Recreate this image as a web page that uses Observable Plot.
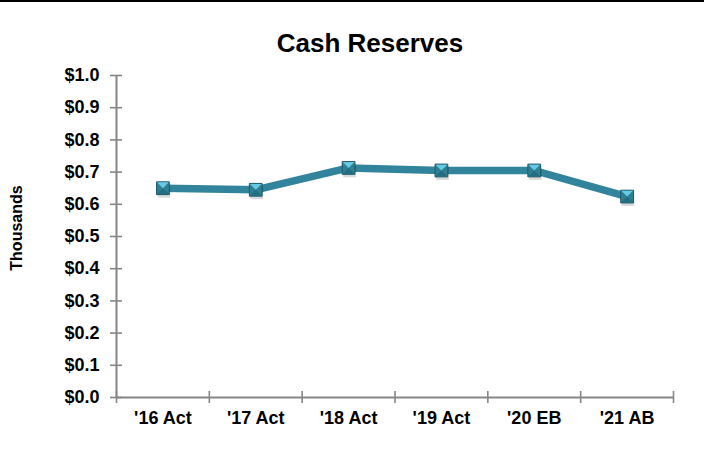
<!DOCTYPE html>
<html>
<head>
<meta charset="utf-8">
<script src="https://cdn.jsdelivr.net/npm/d3@7"></script>
<script src="https://cdn.jsdelivr.net/npm/@observablehq/plot@0.6"></script>
<style>
  body { margin: 0; background: #fff; }
  #wrap { position: relative; width: 704px; height: 461px; font-family: "Liberation Sans", Arial, sans-serif; }
  #topline { position: absolute; left: 0; top: 0; width: 704px; height: 2px; background: #000; }
  #title { position: absolute; left: 0; width: 740px; top: 28px; text-align: center; font-weight: bold; font-size: 26px; color: #000; }
  #ylabel { position: absolute; left: 17px; top: 228px; transform: translate(-50%, -50%) rotate(-90deg); font-weight: bold; font-size: 16px; color: #000; white-space: nowrap; }
</style>
</head>
<body>
<div id="wrap">
  <div id="chart"></div>
  <div id="topline"></div>
  <div id="title">Cash Reserves</div>
  <div id="ylabel">Thousands</div>
</div>
<script>
const categories = ["'16 Act", "'17 Act", "'18 Act", "'19 Act", "'20 EB", "'21 AB"];
const values = [0.65, 0.645, 0.713, 0.705, 0.705, 0.624];
const yTicks = [0, 0.1, 0.2, 0.3, 0.4, 0.5, 0.6, 0.7, 0.8, 0.9, 1.0];

const data = categories.map((c, i) => ({ cat: c, pos: i + 0.5, v: values[i] }));
const boundaries = d3.range(categories.length + 1);
const centers = categories.map((c, i) => i + 0.5);

const topTri = {
  draw(ctx, size) {
    const h = Math.sqrt(size) / 2;
    ctx.moveTo(-h, -h); ctx.lineTo(h, -h); ctx.lineTo(0, 0); ctx.closePath();
  }
};
const botTri = {
  draw(ctx, size) {
    const h = Math.sqrt(size) / 2;
    ctx.moveTo(-h, h); ctx.lineTo(h, h); ctx.lineTo(0, 0); ctx.closePath();
  }
};

const axisColor = "#868686";
const R = 7.2;
const font = { fontFamily: "Liberation Sans, Arial, sans-serif", fontSize: 18, fontWeight: "bold" };

const plot = Plot.plot({
  width: 704,
  height: 461,
  marginLeft: 116,
  marginRight: 31,
  marginTop: 75,
  marginBottom: 64,
  style: { fontFamily: "Liberation Sans, Arial, sans-serif", fontSize: "18px", fontWeight: "bold", color: "#000", background: "transparent" },
  x: { type: "linear", domain: [0, categories.length] },
  y: { domain: [0, 1.0] },
  marks: [
    Plot.axisY({ ticks: yTicks, tickFormat: d3.format("$.1f"), tickSize: 6, tickPadding: 11, stroke: axisColor, strokeWidth: 1.6, label: null, fill: "#000", ...font }),
    Plot.axisY({ ticks: yTicks, tickFormat: () => "", tickSize: -6, stroke: axisColor, strokeWidth: 1.6, label: null }),
    Plot.axisX({ ticks: boundaries, tickSize: 6, tickFormat: () => "", stroke: axisColor, strokeWidth: 1.6, label: null }),
    Plot.axisX({ ticks: boundaries, tickSize: -6, tickFormat: () => "", stroke: axisColor, strokeWidth: 1.6, label: null }),
    Plot.axisX({ ticks: centers, tickSize: 0, tickPadding: 14, tickFormat: (d) => categories[Math.round(d - 0.5)], label: null, fill: "#000", ...font }),
    Plot.ruleX([0], { stroke: axisColor, strokeWidth: 2 }),
    Plot.ruleY([0], { stroke: axisColor, strokeWidth: 2 }),
    Plot.line(data, { x: "pos", y: "v", stroke: "#31849B", strokeWidth: 7.5, strokeLinejoin: "round" }),
    Plot.dot(data, { x: "pos", y: "v", dx: 1, dy: 3, symbol: "square", r: R, fill: "#000", fillOpacity: 0.15 }),
    Plot.dot(data, { x: "pos", y: "v", symbol: "square", r: R, fill: "#2f7f93", stroke: "#1d5a6a", strokeWidth: 1 }),
    Plot.dot(data, { x: "pos", y: "v", symbol: topTri, r: R - 0.6, fill: "#66c9e6" }),
    Plot.dot(data, { x: "pos", y: "v", symbol: botTri, r: R - 0.6, fill: "#236d80" })
  ]
});
document.getElementById("chart").appendChild(plot);
</script>
</body>
</html>
